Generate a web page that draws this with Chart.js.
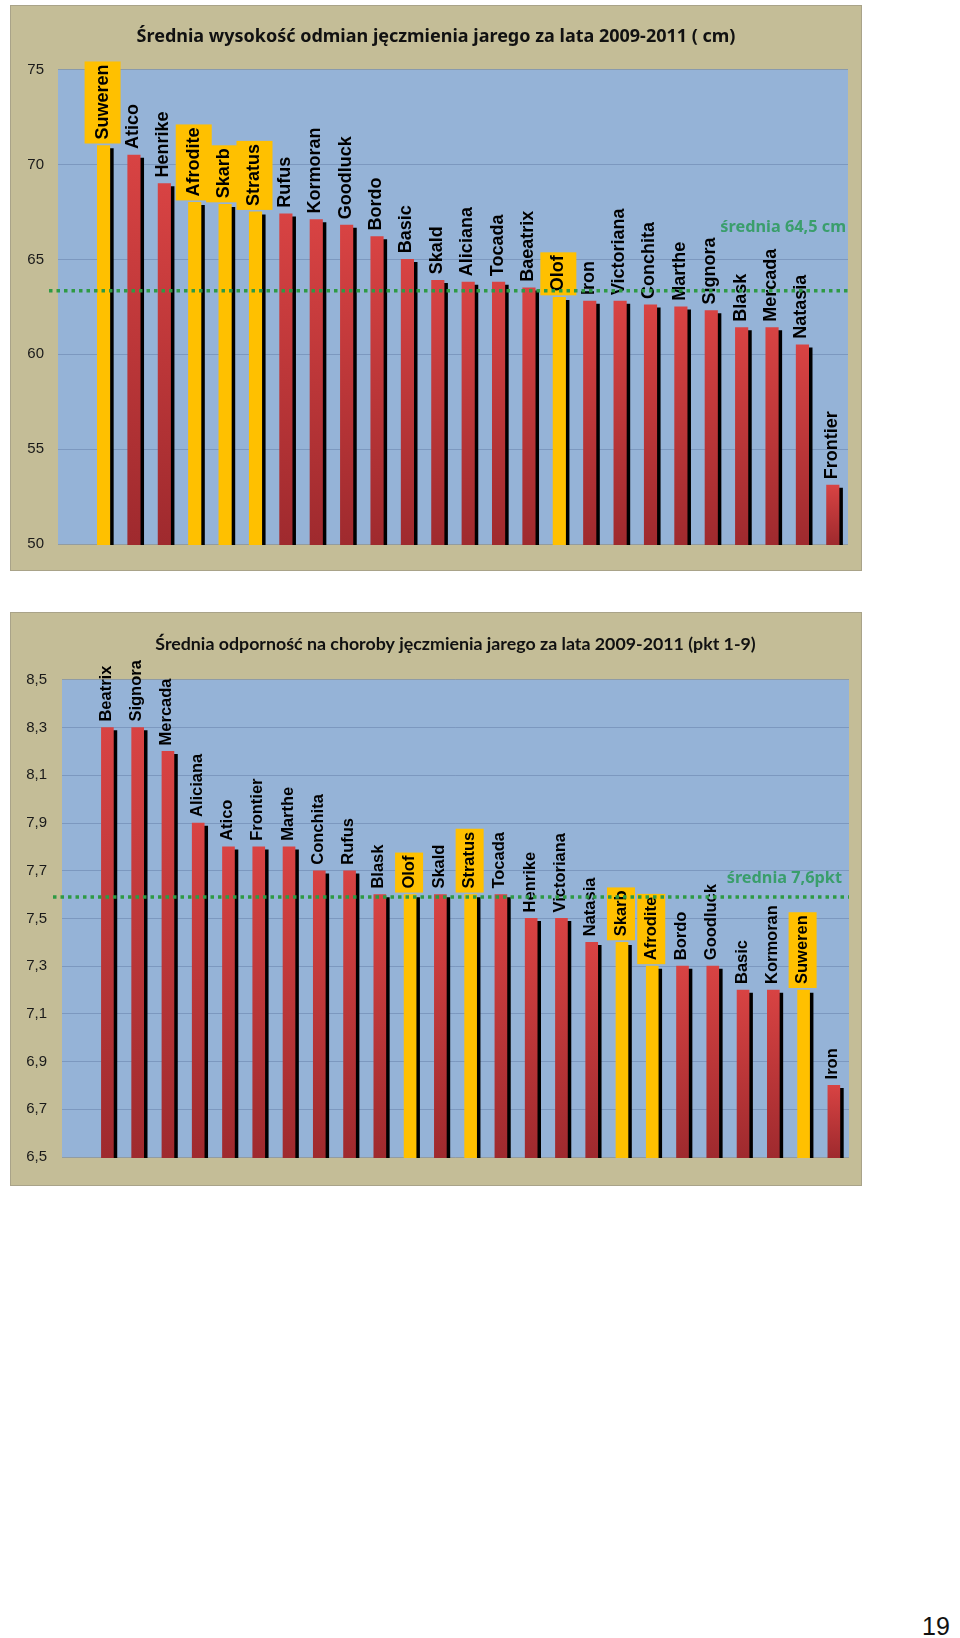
<!DOCTYPE html>
<html lang="pl">
<head>
<meta charset="utf-8">
<title>Jęczmień jary 2009-2011</title>
<script src="https://cdn.jsdelivr.net/npm/chart.js@4.4.1/dist/chart.umd.min.js"></script>
<style>
    html, body { margin: 0; padding: 0; background: #fff; }
    body { width: 960px; height: 1638px; position: relative; overflow: hidden; }
    .chart-box {
        position: absolute;
        left: 10px;
        width: 852px;
        background: #c4bd97;
        outline: 1px solid #a9a389;
        outline-offset: -1px;
    }
    #box1 { top: 5px; height: 566px; }
    #box2 { top: 612px; height: 574px; }
    .page-no {
        position: absolute;
        left: 922px;
        top: 1612px;
        font: 25px "Liberation Sans", Arial, sans-serif;
        color: #111;
    }
</style>
</head>
<body>
<div class="chart-box" id="box1"><canvas id="heightChart" width="852" height="566"></canvas></div>
<div class="chart-box" id="box2"><canvas id="resistChart" width="852" height="574"></canvas></div>
<div class="page-no">19</div>

<script>
// Wykres 1 - średnia wysokość (cm)
const heightVarieties = ['Suweren', 'Atico', 'Henrike', 'Afrodite', 'Skarb', 'Stratus', 'Rufus', 'Kormoran',
    'Goodluck', 'Bordo', 'Basic', 'Skald', 'Aliciana', 'Tocada', 'Baeatrix', 'Olof', 'Iron', 'Victoriana',
    'Conchita', 'Marthe', 'Signora', 'Blask', 'Mercada', 'Natasia', 'Frontier'];
const heightValues = [71.0, 70.5, 69.0, 68.0, 67.9, 67.5, 67.4, 67.1, 66.8, 66.2, 65.0, 63.9, 63.8, 63.8,
    63.5, 63.0, 62.8, 62.8, 62.6, 62.5, 62.3, 61.4, 61.4, 60.5, 53.1];
const heightHighlighted = ['Suweren', 'Afrodite', 'Skarb', 'Stratus', 'Olof'];
const heightTicks = [50, 55, 60, 65, 70, 75];
const heightMeanLine = 63.35;
const heightMeanText = 'średnia 64,5 cm';
const heightTitle = 'Średnia wysokość odmian jęczmienia jarego za lata 2009-2011 ( cm)';

// Wykres 2 - średnia odporność na choroby (pkt 1-9)
const resistVarieties = ['Beatrix', 'Signora', 'Mercada', 'Aliciana', 'Atico', 'Frontier', 'Marthe', 'Conchita',
    'Rufus', 'Blask', 'Olof', 'Skald', 'Stratus', 'Tocada', 'Henrike', 'Victoriana', 'Natasia', 'Skarb',
    'Afrodite', 'Bordo', 'Goodluck', 'Basic', 'Kormoran', 'Suweren', 'Iron'];
const resistValues = [8.3, 8.3, 8.2, 7.9, 7.8, 7.8, 7.8, 7.7, 7.7, 7.6, 7.6, 7.6, 7.6, 7.6, 7.5, 7.5, 7.4,
    7.4, 7.3, 7.3, 7.3, 7.2, 7.2, 7.2, 6.8];
const resistHighlighted = ['Olof', 'Stratus', 'Skarb', 'Afrodite', 'Suweren'];
const resistTicks = [6.5, 6.7, 6.9, 7.1, 7.3, 7.5, 7.7, 7.9, 8.1, 8.3, 8.5];
const resistMeanLine = 7.59;
const resistMeanText = 'średnia 7,6pkt';
const resistTitle = 'Średnia odporność na choroby jęczmienia jarego za lata 2009-2011 (pkt 1-9)';

const YELLOW = '#ffc000';

// blue plot area
const plotBackground = {
    id: 'plotBackground',
    beforeDraw(chart) {
        const a = chart.chartArea;
        const c = chart.ctx;
        c.save();
        c.fillStyle = '#95b3d7';
        c.fillRect(a.left, a.top, a.right - a.left, a.bottom - a.top);
        c.restore();
    }
};

// black shadow on the right of every bar
const barShadow = {
    id: 'barShadow',
    beforeDatasetDraw(chart) {
        const c = chart.ctx;
        c.save();
        c.shadowColor = '#000';
        c.shadowOffsetX = 3.5;
        c.shadowOffsetY = 3;
        c.shadowBlur = 0;
    },
    afterDatasetDraw(chart) {
        chart.ctx.restore();
    }
};

// rotated variety names above the bars
const varietyLabels = {
    id: 'varietyLabels',
    afterDatasetsDraw(chart, args, opts) {
        const c = chart.ctx;
        const meta = chart.getDatasetMeta(0);
        c.save();
        c.font = 'bold ' + opts.size + 'px "Liberation Sans", Arial, sans-serif';
        c.textAlign = 'left';
        c.textBaseline = 'middle';
        meta.data.forEach((bar, i) => {
            const name = chart.data.labels[i];
            if (!name) return;
            const w = c.measureText(name).width;
            c.save();
            c.translate(bar.x - 1, bar.y - opts.gap);
            c.rotate(-Math.PI / 2);
            if (opts.highlighted.includes(name)) {
                c.fillStyle = YELLOW;
                c.fillRect(-(opts.gap - 2), -opts.boxWidth / 2, w + opts.gap + 1, opts.boxWidth);
            }
            c.fillStyle = '#000';
            c.fillText(name, 0, 0);
            c.restore();
        });
        c.restore();
    }
};

// green dotted mean line with its caption
const meanLine = {
    id: 'meanLine',
    afterDraw(chart, args, opts) {
        const a = chart.chartArea;
        const c = chart.ctx;
        const y = chart.scales.y.getPixelForValue(opts.value);
        c.save();
        c.strokeStyle = '#2e9a44';
        c.lineWidth = 3.5;
        c.setLineDash([3.5, 4]);
        c.beginPath();
        c.moveTo(a.left - opts.overhang, y);
        c.lineTo(a.right, y);
        c.stroke();
        c.font = opts.font;
        c.fillStyle = '#3a9e6c';
        c.textAlign = 'right';
        c.textBaseline = 'middle';
        c.fillText(opts.text, a.right - opts.textInset, y - opts.textRise);
        c.restore();
    }
};

function barColor(highlighted) {
    return function(ctx) {
        const chart = ctx.chart;
        const name = chart.data.labels[ctx.dataIndex];
        if (highlighted.includes(name)) return YELLOW;
        const area = chart.chartArea;
        if (!area || ctx.raw == null) return '#c63a3c';
        const top = chart.scales.y.getPixelForValue(ctx.raw);
        const g = chart.ctx.createLinearGradient(0, top, 0, area.bottom);
        g.addColorStop(0, '#d84343');
        g.addColorStop(1, '#9f2a2e');
        return g;
    };
}

function buildChart(canvasId, cfg) {
    return new Chart(document.getElementById(canvasId), {
        type: 'bar',
        data: {
            // first slot of the category axis is empty, as in the original
            labels: [''].concat(cfg.labels),
            datasets: [{
                data: [null].concat(cfg.values),
                backgroundColor: barColor(cfg.highlighted),
                barThickness: cfg.barThickness,
                clip: { left: false, top: false, right: false, bottom: 1 }
            }]
        },
        options: {
            responsive: false,
            animation: false,
            layout: { padding: cfg.padding },
            scales: {
                x: { display: false },
                y: {
                    min: cfg.ticks[0],
                    max: cfg.ticks[cfg.ticks.length - 1],
                    afterFit(scale) { scale.width = cfg.axisWidth; },
                    afterBuildTicks(scale) { scale.ticks = cfg.ticks.map(v => ({ value: v })); },
                    grid: { color: 'rgba(104,130,172,0.55)', lineWidth: 1, drawTicks: false },
                    border: { display: false },
                    ticks: {
                        padding: cfg.tickPadding,
                        color: '#1a1a1a',
                        font: { family: '"Liberation Sans", Arial, sans-serif', size: 15 },
                        callback: cfg.tickFormat
                    }
                }
            },
            plugins: {
                legend: { display: false },
                tooltip: { enabled: false },
                title: {
                    display: true,
                    text: cfg.title,
                    fullSize: cfg.titleFullSize,
                    color: '#111',
                    font: { family: cfg.titleFamily, size: cfg.titleSize, weight: 'bold' },
                    padding: cfg.titlePadding
                },
                varietyLabels: {
                    size: cfg.labelSize,
                    gap: 6,
                    boxWidth: cfg.boxWidth,
                    highlighted: cfg.highlighted
                },
                meanLine: {
                    value: cfg.meanValue,
                    text: cfg.meanText,
                    font: cfg.meanFont,
                    overhang: 9,
                    textInset: cfg.meanInset,
                    textRise: cfg.meanRise
                }
            }
        },
        plugins: [plotBackground, barShadow, varietyLabels, meanLine]
    });
}

document.addEventListener('DOMContentLoaded', function() {
    buildChart('heightChart', {
        labels: heightVarieties,
        values: heightValues,
        highlighted: heightHighlighted,
        ticks: heightTicks,
        tickFormat: v => String(v),
        title: heightTitle,
        titleFullSize: true,
        titleFamily: '"Noto Sans", sans-serif',
        titleSize: 18,
        titlePadding: { top: 21, bottom: 22 },
        padding: { left: 14, right: 14, top: 0, bottom: 27 },
        axisWidth: 34,
        tickPadding: 14,
        barThickness: 12.5,
        labelSize: 18,
        boxWidth: 36,
        meanValue: heightMeanLine,
        meanText: heightMeanText,
        meanFont: 'bold 16.3px "Noto Sans", sans-serif',
        meanInset: 2,
        meanRise: 63
    });

    buildChart('resistChart', {
        labels: resistVarieties,
        values: resistValues,
        highlighted: resistHighlighted,
        ticks: resistTicks,
        tickFormat: v => v.toFixed(1).replace('.', ','),
        title: resistTitle,
        titleFullSize: false,
        titleFamily: 'Lato, sans-serif',
        titleSize: 17.8,
        titlePadding: { top: 21.5, bottom: 25 },
        padding: { left: 0, right: 13, top: 0, bottom: 29 },
        axisWidth: 52,
        tickPadding: 15,
        barThickness: 12,
        labelSize: 16.5,
        boxWidth: 28,
        meanValue: resistMeanLine,
        meanText: resistMeanText,
        meanFont: 'bold 16.3px "Noto Sans", sans-serif',
        meanInset: 7,
        meanRise: 19
    });
});
</script>
</body>
</html>
